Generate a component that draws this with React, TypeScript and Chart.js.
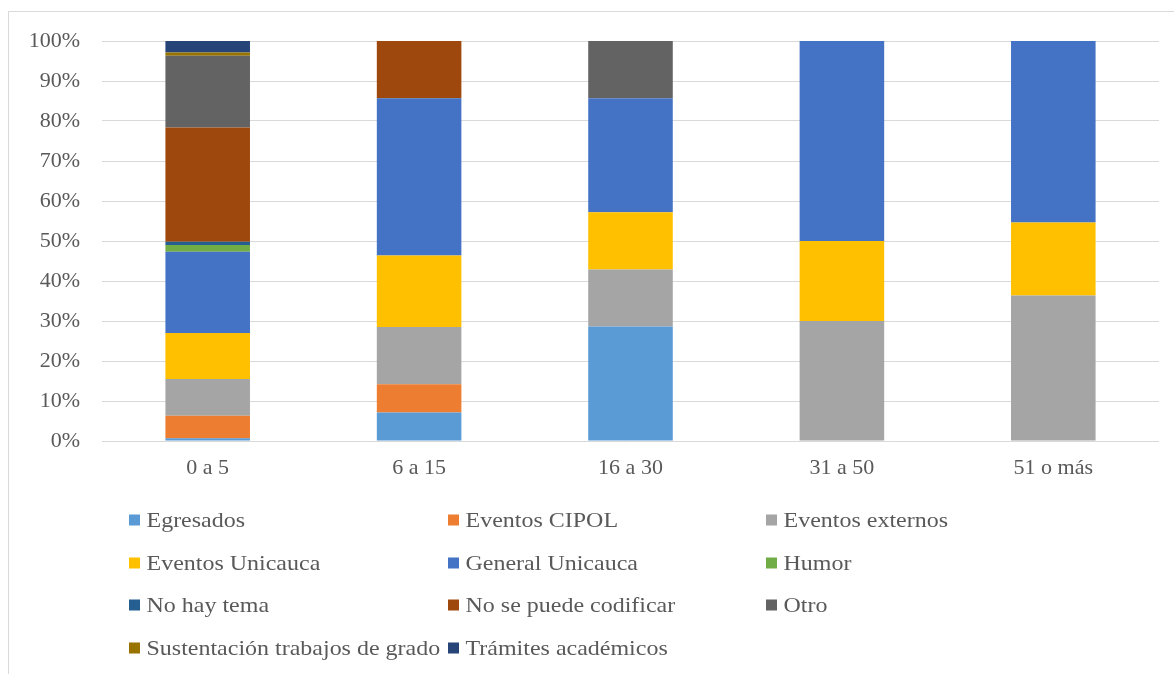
import React, { useEffect, useRef } from "react";
import { Chart, registerables } from "chart.js";

Chart.register(...registerables);

const categories = ["0 a 5", "6 a 15", "16 a 30", "31 a 50", "51 o más"];

const seriesNames = [
  "Egresados",
  "Eventos CIPOL",
  "Eventos externos",
  "Eventos Unicauca",
  "General Unicauca",
  "Humor",
  "No hay tema",
  "No se puede codificar",
  "Otro",
  "Sustentación trabajos de grado",
  "Trámites académicos",
];

const egresados = [0.7, 7.1, 28.6, 0, 0];
const eventosCipol = [5.6, 7.1, 0, 0, 0];
const eventosExternos = [9.2, 14.3, 14.3, 30, 36.4];
const eventosUnicauca = [11.5, 17.9, 14.3, 20, 18.2];
const generalUnicauca = [20.3, 39.3, 28.5, 50, 45.4];
const humor = [1.7, 0, 0, 0, 0];
const noHayTema = [0.8, 0, 0, 0, 0];
const noSePuedeCodificar = [28.6, 14.3, 0, 0, 0];
const otro = [17.9, 0, 14.3, 0, 0];
const sustentacion = [0.8, 0, 0, 0, 0];
const tramites = [2.9, 0, 0, 0, 0];

const seriesValues = [
  egresados,
  eventosCipol,
  eventosExternos,
  eventosUnicauca,
  generalUnicauca,
  humor,
  noHayTema,
  noSePuedeCodificar,
  otro,
  sustentacion,
  tramites,
];

const colors = [
  "#5B9BD5",
  "#ED7D31",
  "#A5A5A5",
  "#FFC000",
  "#4472C4",
  "#70AD47",
  "#255E91",
  "#9E480E",
  "#636363",
  "#997300",
  "#264478",
];

const yTicks = [0, 10, 20, 30, 40, 50, 60, 70, 80, 90, 100];

const FONT = "'Liberation Serif', 'Times New Roman', serif";
const TEXT_COLOR = "#595959";

const legendPlugin = {
  id: "gridLegend",
  afterDraw(chart: any) {
    const ctx = chart.ctx;
    const colX = [120, 439, 757];
    const rowY = [508, 551, 593, 636];
    ctx.save();
    ctx.font = `22px ${FONT}`;
    ctx.textBaseline = "middle";
    ctx.textAlign = "left";
    chart.data.datasets.forEach((ds: any, i: number) => {
      const col = i % 3;
      const row = Math.floor(i / 3);
      const x = colX[col];
      const y = rowY[row];
      ctx.fillStyle = ds.backgroundColor;
      ctx.fillRect(x, y - 5.5, 11, 11);
      ctx.fillStyle = TEXT_COLOR;
      ctx.save();
      ctx.translate(x + 17.5, y + 1);
      ctx.scale(1.09, 1);
      ctx.fillText(ds.label, 0, 0);
      ctx.restore();
    });
    ctx.restore();
  },
};

export default function App() {
  const ref = useRef<HTMLCanvasElement | null>(null);

  useEffect(() => {
    if (!ref.current) return;
    const chart = new Chart(ref.current, {
      type: "bar",
      data: {
        labels: categories,
        datasets: seriesNames.map((name, i) => ({
          label: name,
          data: seriesValues[i],
          backgroundColor: colors[i],
          borderWidth: 0,
          categoryPercentage: 0.8,
          barPercentage: 0.5,
        })),
      },
      options: {
        responsive: false,
        animation: false,
        layout: { padding: { top: 29, right: 15, left: 0, bottom: 0 } },
        plugins: {
          legend: { display: false },
          tooltip: { enabled: false },
          title: { display: false },
        },
        scales: {
          x: {
            stacked: true,
            grid: { display: false, drawTicks: false },
            border: { display: false },
            ticks: {
              color: TEXT_COLOR,
              font: { family: FONT, size: 22 },
              padding: 14,
              maxRotation: 0,
            },
            afterFit: (scale: any) => {
              scale.height = 233;
            },
          },
          y: {
            stacked: true,
            min: 0,
            max: 100,
            afterBuildTicks: (scale: any) => {
              scale.ticks = yTicks.map((v) => ({ value: v }));
            },
            grid: { color: "#d9d9d9", lineWidth: 1, drawTicks: false },
            border: { display: false },
            ticks: {
              color: TEXT_COLOR,
              font: { family: FONT, size: 22 },
              padding: 22,
              callback: (v: any) => `${v}%`,
            },
            afterFit: (scale: any) => {
              scale.width = 93;
              scale.paddingTop = 0;
              scale.paddingBottom = 0;
            },
          },
        },
      },
      plugins: [legendPlugin],
    });
    return () => chart.destroy();
  }, []);

  return (
    <div
      style={{
        position: "absolute",
        left: 8,
        top: 11,
        width: 1166,
        height: 663,
        borderTop: "1px solid #d9d9d9",
        borderLeft: "1px solid #d9d9d9",
        background: "#fff",
        overflow: "hidden",
      }}
    >
      <canvas ref={ref} width={1165} height={662} style={{ display: "block" }} />
    </div>
  );
}
